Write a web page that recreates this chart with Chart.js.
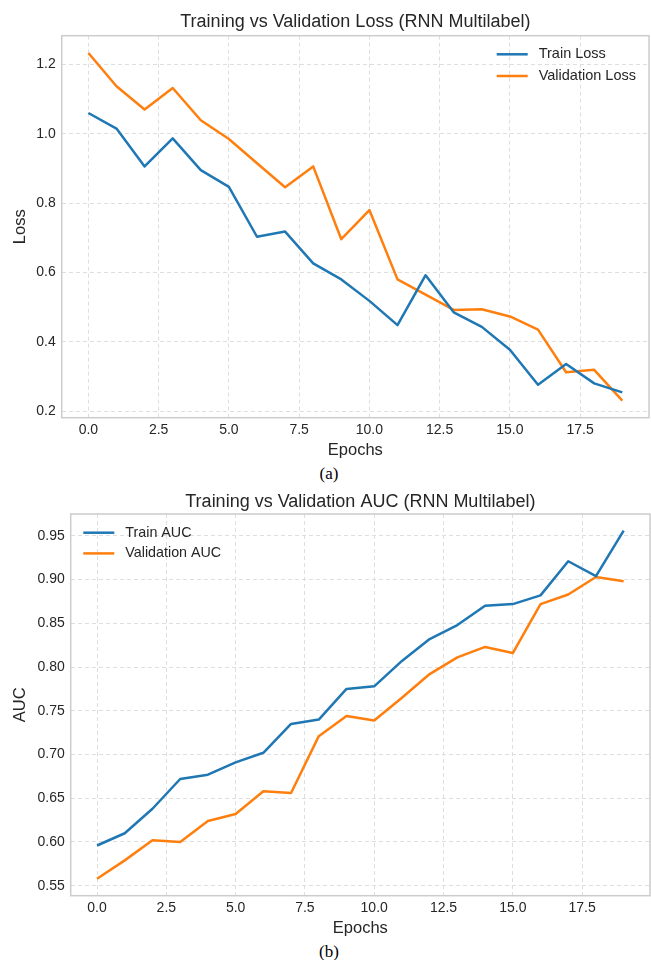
<!DOCTYPE html>
<html><head><meta charset="utf-8">
<script src="https://cdn.jsdelivr.net/npm/chart.js@4.4.1/dist/chart.umd.min.js"></script>
<style>
html,body{margin:0;padding:0;background:#fff}
body{width:651px;height:960px;position:relative;overflow:hidden}
canvas{position:absolute;left:0}
.cap{position:absolute;left:0;width:658px;text-align:center;font-family:"Liberation Serif","Times New Roman",serif;font-size:17px;line-height:20px;color:#000}
</style></head><body>
<canvas id="c1" width="651" height="462" style="top:0;width:651px;height:462px"></canvas>
<div class="cap" style="top:464px">(a)</div>
<canvas id="c2" width="651" height="462" style="top:480px;width:651px;height:462px"></canvas>
<div class="cap" style="top:942px">(b)</div>
<script>
const epochs = [0,1,2,3,4,5,6,7,8,9,10,11,12,13,14,15,16,17,18,19];
const trainLoss = [1.060,1.015,0.906,0.987,0.895,0.847,0.703,0.718,0.626,0.580,0.518,0.448,0.592,0.485,0.443,0.377,0.276,0.336,0.280,0.254];
const valLoss   = [1.233,1.137,1.070,1.132,1.039,0.985,0.915,0.846,0.906,0.696,0.780,0.580,0.536,0.492,0.494,0.473,0.435,0.312,0.319,0.230];
const trainAUC  = [0.596,0.610,0.638,0.672,0.677,0.691,0.702,0.735,0.740,0.775,0.778,0.807,0.832,0.848,0.870,0.872,0.882,0.921,0.904,0.956];
const valAUC    = [0.558,0.579,0.602,0.600,0.624,0.632,0.658,0.656,0.721,0.744,0.739,0.765,0.792,0.811,0.823,0.816,0.872,0.883,0.903,0.898];
const xTickValues = [0,2.5,5,7.5,10,12.5,15,17.5];
const lossTickValues = [0.2,0.4,0.6,0.8,1.0,1.2];
const aucTickValues = [0.55,0.60,0.65,0.70,0.75,0.80,0.85,0.90,0.95];

const BLUE = '#1f77b4', ORANGE = '#ff7f0e', TXT = '#262626';
const FONT = '"Liberation Sans", Arial, sans-serif';

const framePlugin = {
  id: 'frame',
  beforeDatasetsDraw(chart) {
    const {ctx, chartArea: a} = chart;
    ctx.save();
    ctx.strokeStyle = '#cccccc';
    ctx.lineWidth = 1.5;
    ctx.strokeRect(a.left, a.top, a.right - a.left, a.bottom - a.top);
    ctx.restore();
  }
};
const legendPlugin = {
  id: 'inLegend',
  afterDatasetsDraw(chart, args, o) {
    const ctx = chart.ctx;
    ctx.save();
    ctx.font = o.size + 'px ' + FONT;
    ctx.textBaseline = 'middle';
    ctx.textAlign = 'left';
    chart.data.datasets.forEach((ds, i) => {
      const y = o.y + i * o.gap;
      ctx.strokeStyle = ds.borderColor;
      ctx.lineWidth = 2.5;
      ctx.beginPath(); ctx.moveTo(o.x, y); ctx.lineTo(o.x + 31, y); ctx.stroke();
      ctx.fillStyle = TXT;
      ctx.fillText(ds.label, o.x + 42, y);
    });
    ctx.restore();
  }
};

function series(label, ys, color) {
  return {label, data: epochs.map((x, i) => ({x, y: ys[i]})), borderColor: color, backgroundColor: color,
    borderWidth: 2.5, pointRadius: 0, tension: 0, borderJoinStyle: 'round', fill: false};
}

function makeChart(id, cfg) {
  return new Chart(document.getElementById(id), {
    type: 'line',
    data: {datasets: [series(cfg.l1, cfg.d1, BLUE), series(cfg.l2, cfg.d2, ORANGE)]},
    options: {
      responsive: false, animation: false,
      layout: {padding: {left: 0, right: cfg.padRight, top: 0, bottom: 0}},
      plugins: {
        legend: {display: false}, tooltip: {enabled: false},
        title: {display: true, text: cfg.title, fullSize: false, color: TXT,
          font: {family: FONT, size: 18, weight: 'normal', lineHeight: 1.2},
          padding: {top: cfg.titlePadTop, bottom: cfg.titlePadBottom}},
        inLegend: cfg.legend
      },
      scales: {
        x: {type: 'linear', min: -0.95, max: 19.95,
          afterFit: s => { s.height = cfg.xHeight; },
          afterBuildTicks: s => { s.ticks = xTickValues.map(v => ({value: v})); },
          ticks: {padding: 4, color: TXT, font: {family: FONT, size: 14}, maxRotation: 0,
            callback: v => Number(v).toFixed(1)},
          grid: {color: '#dedede', lineWidth: 1, drawTicks: false},
          border: {display: false, dash: [4, 3]},
          title: {display: true, text: 'Epochs', color: TXT, font: {family: FONT, size: 16.5, lineHeight: 1.2},
            padding: {top: 0, bottom: cfg.xTitlePadBottom}}
        },
        y: {type: 'linear', min: cfg.yMin, max: cfg.yMax,
          afterFit: s => { s.width = cfg.yWidth; },
          afterBuildTicks: s => { s.ticks = cfg.yTicks.map(v => ({value: v})); },
          ticks: {padding: 6, color: TXT, font: {family: FONT, size: 14},
            callback: v => Number(v).toFixed(cfg.dec)},
          grid: {color: '#dedede', lineWidth: 1, drawTicks: false},
          border: {display: false, dash: [4, 3]},
          title: {display: true, text: cfg.yTitle, color: TXT, font: {family: FONT, size: 16.5, lineHeight: 1.2},
            padding: {top: 11, bottom: 0}}
        }
      }
    },
    plugins: [framePlugin, legendPlugin]
  });
}

makeChart('c1', {
  l1: 'Train Loss', l2: 'Validation Loss', d1: trainLoss, d2: valLoss,
  title: 'Training vs Validation Loss (RNN Multilabel)', titlePadTop: 10.9, titlePadBottom: 3.2,
  padRight: 2, xHeight: 44.3, xTitlePadBottom: 1.4, yWidth: 61.7,
  yMin: 0.181, yMax: 1.283, yTicks: lossTickValues, dec: 1, yTitle: 'Loss',
  legend: {x: 496.7, y: 54.3, gap: 21.7, size: 14.5}
});
makeChart('c2', {
  l1: 'Train AUC', l2: 'Validation AUC', d1: trainAUC, d2: valAUC,
  title: 'Training vs Validation AUC (RNN Multilabel)', titlePadTop: 10.9, titlePadBottom: 1.5,
  padRight: 1, xHeight: 46.3, xTitlePadBottom: 3.8, yWidth: 70.7,
  yMin: 0.5386, yMax: 0.975, yTicks: aucTickValues, dec: 2, yTitle: 'AUC',
  legend: {x: 83.3, y: 52.7, gap: 20.7, size: 14.3}
});
</script>
</body></html>
